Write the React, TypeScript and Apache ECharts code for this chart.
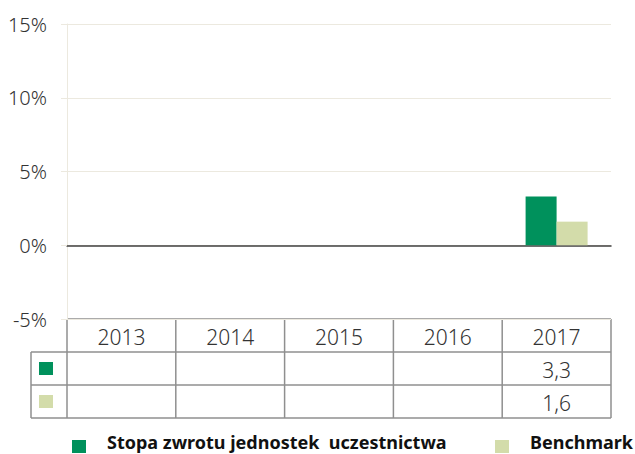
import React, { useEffect, useRef } from "react";
import * as echarts from "echarts";

const categories = ["2013", "2014", "2015", "2016", "2017"];
const fundValues: (number | null)[] = [null, null, null, null, 3.3];
const benchValues: (number | null)[] = [null, null, null, null, 1.6];
const seriesNames = ["Stopa zwrotu jednostek  uczestnictwa", "Benchmark"];
const colors = ["#00915C", "#D3DCAA"];

const W = 635;
const H = 454;
const GL = 67;
const GR = 24;
const GT = 24;
const GB = 135;

export default function App() {
  const ref = useRef<HTMLDivElement>(null);
  useEffect(() => {
    if (!ref.current) return;
    const chart = echarts.init(ref.current, null, { renderer: "svg" });
    const font = "'Noto Sans', sans-serif";
    const gridW = W - GL - GR;
    const colW = gridW / categories.length;
    const tableTop = H - GB;
    const rowH = 33;
    const legendLeft = 31;
    const lineColor = "#8f8f8f";
    const graphics: any[] = [];
    const ln = (x1: number, y1: number, x2: number, y2: number) => ({
      type: "line",
      shape: { x1, y1, x2, y2 },
      style: { stroke: lineColor, lineWidth: 1.5 },
      silent: true,
    });
    graphics.push(ln(GL, tableTop, GL + gridW, tableTop));
    for (let r = 1; r <= 3; r++) {
      graphics.push(ln(legendLeft, tableTop + r * rowH, GL + gridW, tableTop + r * rowH));
    }
    for (let c = 0; c <= categories.length; c++) {
      graphics.push(ln(GL + c * colW, tableTop, GL + c * colW, tableTop + 3 * rowH));
    }
    graphics.push(ln(legendLeft, tableTop + rowH, legendLeft, tableTop + 3 * rowH));
    categories.forEach((cat, i) => {
      graphics.push({
        type: "text",
        x: GL + (i + 0.5) * colW,
        y: tableTop + rowH / 2 + 1,
        style: {
          text: cat,
          fill: "#333",
          font: `300 21px ${font}`,
          align: "center",
          verticalAlign: "middle",
        },
      });
    });
    [fundValues, benchValues].forEach((vals, r) => {
      graphics.push({
        type: "rect",
        shape: { x: 39, y: tableTop + (r + 1) * rowH + 10, width: 14, height: 13 },
        style: { fill: colors[r] },
      });
      vals.forEach((v, i) => {
        if (v == null) return;
        graphics.push({
          type: "text",
          x: GL + (i + 0.5) * colW,
          y: tableTop + (r + 1) * rowH + rowH / 2 + 1,
          style: {
            text: v.toFixed(1).replace(".", ","),
            fill: "#333",
            font: `300 21px ${font}`,
            align: "center",
            verticalAlign: "middle",
          },
        });
      });
    });
    // bottom legend
    const legendPos = [
      { sx: 72, tx: 107 },
      { sx: 495, tx: 530 },
    ];
    seriesNames.forEach((name, i) => {
      graphics.push({
        type: "rect",
        shape: { x: legendPos[i].sx, y: 440, width: 14, height: 13 },
        style: { fill: colors[i] },
      });
      graphics.push({
        type: "text",
        x: legendPos[i].tx,
        y: 442,
        style: {
          text: name,
          fill: "#111",
          font: `bold 18px ${font}`,
          align: "left",
          verticalAlign: "middle",
        },
      });
    });

    chart.setOption({
      animation: false,
      grid: { left: GL, right: GR, top: GT, bottom: GB },
      xAxis: {
        type: "category",
        data: categories,
        axisLine: { onZero: true, lineStyle: { color: "#404040", width: 1.5 } },
        axisTick: { show: false },
        axisLabel: { show: false },
      },
      yAxis: {
        type: "value",
        min: -5,
        max: 15,
        interval: 5,
        axisLine: { show: true, lineStyle: { color: "#ECE9DF", width: 1 } },
        axisTick: { show: true, length: 6, lineStyle: { color: "#ECE9DF" } },
        splitLine: { lineStyle: { color: "#ECE9DF", width: 1 } },
        axisLabel: {
          formatter: "{value}%",
          fontFamily: font,
          fontSize: 20,
          fontWeight: 300,
          color: "#333",
          margin: 20,
        },
      },
      series: [
        {
          name: seriesNames[0],
          type: "bar",
          data: fundValues,
          barWidth: 31,
          barGap: "0%",
          itemStyle: { color: colors[0] },
        },
        {
          name: seriesNames[1],
          type: "bar",
          data: benchValues,
          barWidth: 31,
          barGap: "0%",
          itemStyle: { color: colors[1] },
        },
      ],
      graphic: graphics,
    });
    return () => chart.dispose();
  }, []);
  return (
    <div
      ref={ref}
      style={{ position: "absolute", left: 0, top: 0, width: W, height: H }}
    />
  );
}
